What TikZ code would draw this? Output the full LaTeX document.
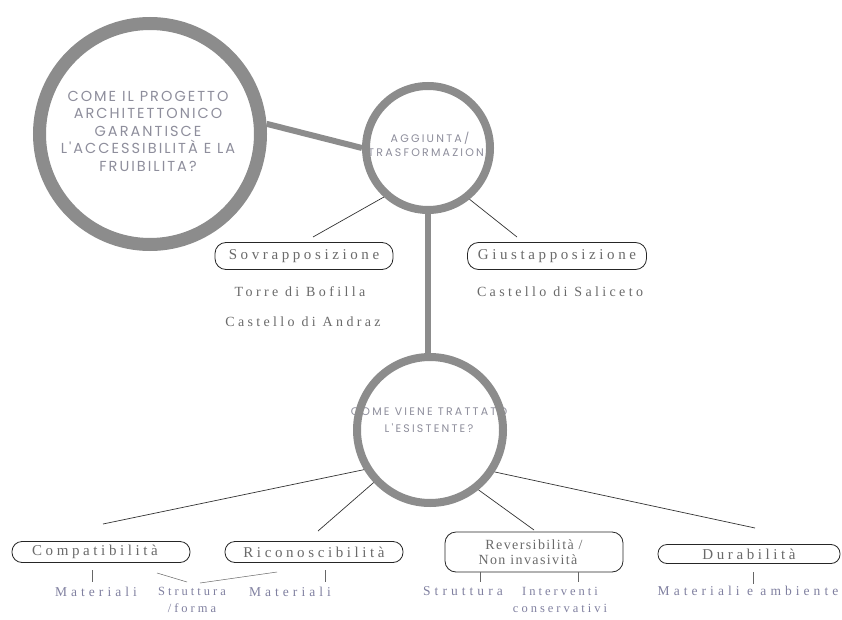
\documentclass[tikz,border=0pt]{standalone}
\usepackage{fontspec}
\setmainfont{Liberation Serif}
\newfontfamily\capsA[LetterSpace=14]{Poppins}
\newfontfamily\capsB[LetterSpace=20]{Poppins}
\newfontfamily\spserif[LetterSpace=24]{Liberation Serif}
\newfontfamily\wideserif[LetterSpace=30]{Liberation Serif}
\newfontfamily\tightserif[LetterSpace=10]{Liberation Serif}
\definecolor{ringgray}{HTML}{8C8C8C}
\definecolor{captext}{HTML}{8E8E9C}
\definecolor{boxtext}{HTML}{6A6A6A}
\definecolor{subtext}{HTML}{8080A0}
\tikzset{
  ringnode/.style={circle, draw=ringgray, inner sep=0pt},
  bigring/.style={ringnode, line width=13pt, minimum size=221pt},
  midring/.style={ringnode, line width=8pt, minimum size=124pt},
  lowring/.style={ringnode, line width=8pt, minimum size=146pt},
  captxt/.style={align=center, text=captext, inner sep=0pt},
  thick link/.style={draw=ringgray, line width=6pt},
  thin link/.style={draw=black!80, line width=0.7pt},
  tick/.style={draw=black!60, line width=0.5pt},
  labelbox/.style={draw=black!85, line width=0.8pt, rounded corners=11pt, inner sep=0pt,
    text=boxtext, font=\spserif\fontsize{15}{16}\selectfont, align=center},
  sublabel/.style={text=subtext, font=\wideserif\fontsize{13.5}{17}\selectfont, align=center, inner sep=0pt},
  narrowsub/.style={sublabel, font=\spserif\fontsize{12.5}{17}\selectfont},
  example/.style={text=boxtext, font=\spserif\fontsize{14}{16}\selectfont, inner sep=0pt},
}
\begin{document}
\begin{tikzpicture}[x=1pt,y=-1pt]
\useasboundingbox (0,0) rectangle (842,620);
\fill[white] (0,0) rectangle (842,620);

% texts inside rings (drawn first so that rings cover their edges)
\node[captxt, font=\capsA\fontsize{14.5}{17.5}\selectfont] (bigt) at (148,131) {COME IL PROGETTO\\ARCHITETTONICO\\GARANTISCE\\L'ACCESSIBILITÀ E LA\\FRUIBILITA?};
\node[captxt, font=\capsB\fontsize{11}{14}\selectfont] (c1t) at (430,144) {AGGIUNTA/\\TRASFORMAZIONE};
\node[captxt, font=\capsB\fontsize{11}{17}\selectfont] (c2t) at (429,420) {COME VIENE TRATTATO\\L'ESISTENTE?};

% rings
\node[bigring] (big) at (150,134) {};
\node[midring] (c1) at (428,148) {};
\node[lowring] (c2) at (430,430) {};

% thick connectors
\draw[thick link] (big.5) -- (c1.180);
\draw[thick link] (c1.south -| 428,0) -- (c2.north -| 428,0);

% upper boxes
\node[labelbox, minimum width=178pt, minimum height=27pt] (sov) at (304,256) {Sovrapposizione};
\node[labelbox, minimum width=179pt, minimum height=27pt] (giu) at (557,256) {Giustapposizione};
\node[example] (torre) at (300,292) {Torre di Bofilla};
\node[example] (andraz) at (303,322) {Castello di Andraz};
\node[example] (saliceto) at (560,292) {Castello di Saliceto};

\coordinate (sovend) at (313,237);
\coordinate (giuend) at (517,237);
\draw[thin link] (c1.228) -- (sovend);
\draw[thin link] (c1.309) -- (giuend);

% lower boxes
\node[labelbox, minimum width=178pt, minimum height=21pt, rounded corners=10pt] (comp) at (101,552) {Compatibilità\hspace*{12pt}};
\node[labelbox, minimum width=178pt, minimum height=21pt, rounded corners=10pt] (rico) at (314,552) {Riconoscibilità};
\node[labelbox, minimum width=178pt, minimum height=40pt, font=\tightserif\fontsize{14}{15}\selectfont] (reve) at (534,552) {Reversibilità /\\Non invasività\hspace*{12pt}};
\node[labelbox, minimum width=182pt, minimum height=19pt, rounded corners=9pt] (dura) at (749,554) {Durabilità};

\coordinate (compend) at (103,524);
\coordinate (ricoend) at (318,531);
\coordinate (reveend) at (534,530);
\coordinate (duraend) at (755,528);
\draw[thin link] (c2.211) -- (compend);
\draw[thin link] (c2.223) -- (ricoend);
\draw[thin link] (c2.309) -- (reveend);
\draw[thin link] (c2.327) -- (duraend);

% sub labels
\node[sublabel] (mat1) at (96,592) {Materiali};
\node[narrowsub] (strf) at (192,600) {Struttura\\/forma};
\node[sublabel] (mat2) at (290,592) {Materiali};
\node[sublabel] (str2) at (463,591) {Struttura};
\node[narrowsub] (inte) at (560,600) {Interventi\\conservativi};
\node[sublabel] (matamb) at (748,591) {Materiali e ambiente};

\coordinate (t1a) at (92,570);  \coordinate (t1b) at (92,582);
\coordinate (t2a) at (157,573); \coordinate (t2b) at (187,582);
\coordinate (t3a) at (277,572); \coordinate (t3b) at (200,583);
\coordinate (t4a) at (325,570); \coordinate (t4b) at (325,582);
\coordinate (t5a) at (480,572); \coordinate (t5b) at (480,582);
\coordinate (t6a) at (578,572); \coordinate (t6b) at (578,582);
\coordinate (t7a) at (753,572); \coordinate (t7b) at (753,584);
\draw[tick] (t1a) -- (t1b);
\draw[tick] (t2a) -- (t2b);
\draw[tick] (t3a) -- (t3b);
\draw[tick] (t4a) -- (t4b);
\draw[tick] (t5a) -- (t5b);
\draw[tick] (t6a) -- (t6b);
\draw[tick] (t7a) -- (t7b);
\end{tikzpicture}
\end{document}
